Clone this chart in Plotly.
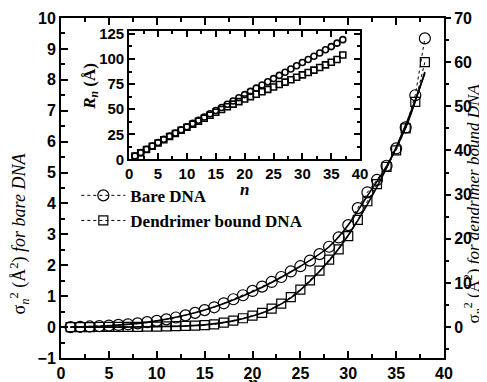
import plotly.graph_objects as go

n = list(range(1, 39))
bare = [0.0, 0.01, 0.02, 0.03, 0.05, 0.07, 0.09, 0.12, 0.16, 0.2,
        0.25, 0.31, 0.38, 0.46, 0.55, 0.64, 0.77, 0.9, 1.03, 1.17,
        1.31, 1.46, 1.62, 1.8, 1.97, 2.15, 2.36, 2.6, 2.9, 3.3,
        3.85, 4.36, 4.76, 5.22, 5.78, 6.46, 7.5, 9.34]
dend = [0.0, 0.0, 0.01, 0.02, 0.03, 0.04, 0.05, 0.07, 0.09, 0.12,
        0.16, 0.2, 0.27, 0.35, 0.45, 0.6, 1.0, 1.45, 2.0, 2.6,
        3.2, 4.2, 5.3, 6.8, 8.5, 10.6, 12.8, 15.3, 17.6, 20.6,
        24.3, 28.5, 32.4, 36.3, 40.0, 45.0, 51.0, 60.0]

# fitted curves
fit_n_bare = [1, 5, 10, 15, 20, 25, 28, 30, 32, 34, 36, 37, 38]
fit_bare = [0.0, 0.04, 0.2, 0.55, 1.14, 1.97, 2.6, 3.3, 4.25, 5.2, 6.45, 7.3, 8.25]
fit_n_dend = [1, 10, 15, 18, 20, 22, 24, 26, 28, 30, 32, 34, 36, 38]
fit_dend = [0.0, 0.1, 0.5, 1.4, 2.5, 4.1, 6.6, 10.4, 15.0, 20.8, 27.8, 36.0, 45.8, 57.5]

# inset: R_n
n_in = list(range(1, 38))
r_bare = [3.4, 6.8, 10.1, 13.4, 16.8, 20.0, 23.2, 26.4, 29.6, 32.6,
          35.9, 39.1, 42.3, 45.5, 48.7, 51.8, 55.0, 58.2, 61.5, 64.6,
          67.8, 71.0, 74.2, 77.4, 80.5, 83.7, 86.9, 90.1, 93.3, 96.5,
          99.6, 102.8, 106.0, 109.2, 112.4, 115.8, 119.3]
r_dend = [3.3, 6.6, 9.9, 13.2, 16.4, 19.6, 22.8, 25.9, 29.0, 32.0,
          35.0, 38.0, 41.0, 44.0, 47.0, 49.8, 52.5, 55.1, 57.6, 60.2,
          62.6, 65.0, 67.4, 69.8, 72.2, 74.6, 77.0, 79.4, 81.8, 84.2,
          86.6, 89.0, 91.6, 94.2, 96.8, 99.6, 104.0]

SANS = "Liberation Sans"
SERIF = "Liberation Serif"

fig = go.Figure()

fig.add_trace(go.Scatter(x=n, y=bare, name="Bare DNA", mode="lines+markers",
                         line=dict(color="black", width=1, dash="dot"),
                         marker=dict(symbol="circle-open", size=11, color="black", line=dict(width=1.2))))
fig.add_trace(go.Scatter(x=n, y=dend, name="Dendrimer bound DNA", mode="lines+markers", yaxis="y2",
                         line=dict(color="black", width=1, dash="dot"),
                         marker=dict(symbol="square-open", size=9, color="black", line=dict(width=1.2))))
fig.add_trace(go.Scatter(x=fit_n_bare, y=fit_bare, mode="lines", showlegend=False,
                         line=dict(color="black", width=1.6, shape="spline")))
fig.add_trace(go.Scatter(x=fit_n_dend, y=fit_dend, mode="lines", showlegend=False, yaxis="y2",
                         line=dict(color="black", width=1.6, shape="spline")))

fig.add_trace(go.Scatter(x=n_in, y=r_bare, mode="markers", showlegend=False, xaxis="x3", yaxis="y3",
                         marker=dict(symbol="circle-open", size=6, color="black", line=dict(width=1.6))))
fig.add_trace(go.Scatter(x=n_in, y=r_dend, mode="markers", showlegend=False, xaxis="x3", yaxis="y3",
                         marker=dict(symbol="square-open", size=6, color="black", line=dict(width=1.6))))

tickfont = dict(family=SANS, size=16, color="black", weight="bold")
inset_font = dict(family=SANS, size=15, color="black", weight="bold")
axbase = dict(showline=True, linecolor="black", linewidth=2, showgrid=False, zeroline=False, automargin=False,
              ticks="inside", ticklen=7, tickwidth=1.5, tickcolor="black", tickfont=tickfont)

fig.update_layout(
    width=487, height=382,
    margin=dict(l=53, r=51, t=10, b=32, autoexpand=False),
    paper_bgcolor="white", plot_bgcolor="white",
    font=dict(family=SANS, color="black"),
    xaxis=dict(axbase, range=[0, 40], tick0=0, dtick=5, mirror="ticks",
               minor=dict(dtick=2.5, ticks="inside", ticklen=4, tickcolor="black")),
    yaxis=dict(axbase, range=[-1, 10], tick0=0, dtick=1,
               minor=dict(dtick=0.5, ticks="inside", ticklen=4, tickcolor="black")),
    yaxis2=dict(axbase, overlaying="y", side="right", range=[-7, 70], tick0=0, dtick=10,
                ticks="outside", ticklen=5,
                minor=dict(dtick=5, ticks="outside", ticklen=3, tickcolor="black")),
    xaxis3=dict(axbase, domain=[0.178, 0.781], anchor="y3", range=[0, 40], tick0=0, dtick=5, mirror="ticks",
                ticklen=6, tickfont=inset_font,
                minor=dict(dtick=2.5, ticks="inside", ticklen=3, tickcolor="black")),
    yaxis3=dict(axbase, domain=[0.584, 0.962], anchor="x3", range=[0, 128], tick0=0, dtick=25, mirror="ticks",
                ticklen=6, tickfont=inset_font,
                minor=dict(dtick=12.5, ticks="inside", ticklen=3, tickcolor="black")),
    legend=dict(x=0.04, y=0.53, xanchor="left", yanchor="top", bgcolor="rgba(0,0,0,0)",
                font=dict(family=SERIF, size=17, color="black", weight="bold"),
                tracegroupgap=0, itemwidth=44),
    showlegend=True,
)

fig.add_shape(type="rect", xref="x3 domain", yref="y3 domain", x0=0, x1=1, y0=0, y1=1,
              fillcolor="white", line=dict(width=0), layer="below")

fig.add_annotation(text="σ<sub><i>n</i></sub><sup>2</sup> (Å<sup>2</sup>) <i>for bare DNA</i>",
                   xref="paper", yref="paper", x=-0.108, y=0.365, xanchor="center", yanchor="middle",
                   textangle=-90, showarrow=False,
                   font=dict(family=SERIF, size=18, color="black"))
fig.add_annotation(text="σ<sub><i>n</i></sub><sup>2</sup> (Å<sup>2</sup>) <i>for dendrimer bound DNA</i>",
                   xref="paper", yref="paper", x=1.076, y=0.455, xanchor="center", yanchor="middle",
                   textangle=-90, showarrow=False,
                   font=dict(family=SERIF, size=17, color="black"))
fig.add_annotation(text="<b><i>R<sub>n</sub></i> (Å)</b>",
                   xref="paper", yref="paper", x=0.078, y=0.80, xanchor="center", yanchor="middle",
                   textangle=-90, showarrow=False,
                   font=dict(family=SERIF, size=17, color="black"))
fig.add_annotation(text="<b><i>n</i></b>",
                   xref="paper", yref="paper", x=0.478, y=0.497, xanchor="center", yanchor="middle",
                   showarrow=False, font=dict(family=SERIF, size=17, color="black"))
fig.add_annotation(text="<b><i>n</i></b>",
                   xref="paper", yref="paper", x=0.5, y=-0.073, xanchor="center", yanchor="middle",
                   showarrow=False, font=dict(family=SERIF, size=18, color="black"))

fig.write_html("out.html")
